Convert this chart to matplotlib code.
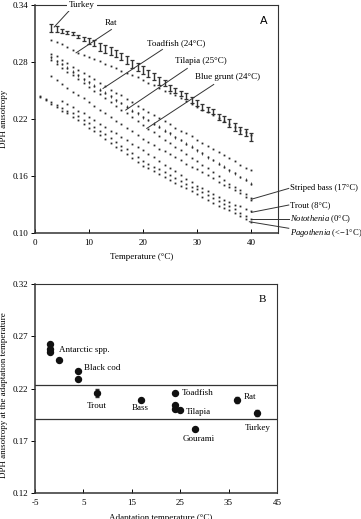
import numpy as np
import matplotlib.pyplot as plt

plt.rcParams['font.family'] = ['Liberation Serif', 'DejaVu Serif']
plt.rcParams['mathtext.fontset'] = 'custom'
plt.rcParams['mathtext.rm'] = 'Liberation Serif'
plt.rcParams['mathtext.it'] = 'Liberation Serif:italic'
plt.rcParams['font.size'] = 6.5
plt.rcParams['axes.unicode_minus'] = False

##################### Data, panel A ######################
temp_a = np.arange(3, 41)      # measurement temperatures, 1 degree steps
temp_low = np.arange(1, 41)
temp_trout = np.arange(5, 41)

turkey = [0.316, 0.315, 0.313, 0.311, 0.310, 0.307, 0.304, 0.302, 0.300, 0.296,
          0.294, 0.292, 0.289, 0.286, 0.282, 0.278, 0.275, 0.272, 0.268, 0.265,
          0.260, 0.258, 0.253, 0.250, 0.247, 0.244, 0.240, 0.237, 0.233, 0.230,
          0.228, 0.222, 0.220, 0.216, 0.212, 0.208, 0.206, 0.201]
turkey_err = [0.004, 0.003, 0.002, 0.0015, 0.0015, 0.002, 0.002, 0.003, 0.003, 0.004,
              0.004, 0.004, 0.004, 0.004, 0.004, 0.004, 0.004, 0.004, 0.004, 0.004,
              0.004, 0.003, 0.003, 0.003, 0.003, 0.003, 0.003, 0.003, 0.003, 0.003,
              0.003, 0.003, 0.003, 0.004, 0.004, 0.004, 0.004, 0.004]
rat = [0.303, 0.301, 0.299, 0.296, 0.293, 0.290, 0.288, 0.285, 0.283, 0.281,
       0.278, 0.276, 0.274, 0.271, 0.269, 0.266, 0.264, 0.261, 0.258, 0.256,
       0.253, 0.250, 0.248, 0.245, 0.242, 0.239, 0.236, 0.233, 0.230, 0.227,
       0.224, 0.221, 0.218, 0.215, 0.212, 0.209, 0.206, 0.203]
toadfish = [0.289, 0.286, 0.282, 0.279, 0.275, 0.272, 0.269, 0.265, 0.262, 0.258,
            0.255, 0.251, 0.248, 0.245, 0.241, 0.238, 0.234, 0.231, 0.228, 0.224,
            0.221, 0.218, 0.215, 0.211, 0.208, 0.205, 0.202, 0.198, 0.195, 0.192,
            0.189, 0.185, 0.182, 0.179, 0.176, 0.172, 0.169, 0.166]
tilapia = [0.285, 0.281, 0.278, 0.274, 0.270, 0.266, 0.262, 0.259, 0.255, 0.251,
           0.248, 0.244, 0.240, 0.237, 0.233, 0.229, 0.226, 0.222, 0.219, 0.215,
           0.212, 0.208, 0.205, 0.201, 0.198, 0.194, 0.191, 0.187, 0.184, 0.180,
           0.177, 0.173, 0.170, 0.166, 0.163, 0.159, 0.156, 0.152]
blue_grunt = [0.282, 0.278, 0.274, 0.270, 0.266, 0.262, 0.258, 0.254, 0.250, 0.246,
              0.242, 0.238, 0.234, 0.230, 0.226, 0.222, 0.218, 0.214, 0.210, 0.206,
              0.202, 0.198, 0.195, 0.191, 0.187, 0.183, 0.179, 0.176, 0.172, 0.168,
              0.164, 0.160, 0.156, 0.152, 0.149, 0.145, 0.141, 0.137]
striped_bass = [0.265, 0.261, 0.257, 0.253, 0.249, 0.245, 0.242, 0.238, 0.234, 0.230,
                0.226, 0.222, 0.218, 0.215, 0.211, 0.207, 0.203, 0.199, 0.196, 0.193,
                0.189, 0.186, 0.183, 0.180, 0.177, 0.173, 0.170, 0.167, 0.164, 0.161,
                0.158, 0.154, 0.151, 0.148, 0.145, 0.142, 0.138, 0.135]
trout = [0.239, 0.236, 0.233, 0.229, 0.226, 0.222, 0.219, 0.215, 0.212, 0.208,
         0.205, 0.201, 0.198, 0.194, 0.191, 0.187, 0.183, 0.180, 0.176, 0.172,
         0.168, 0.165, 0.161, 0.157, 0.154, 0.150, 0.147, 0.144, 0.141, 0.138,
         0.135, 0.133, 0.130, 0.128, 0.125, 0.123]
notothenia = [0.244, 0.241, 0.238, 0.235, 0.232, 0.229, 0.226, 0.223, 0.219, 0.216,
              0.212, 0.208, 0.204, 0.200, 0.196, 0.192, 0.188, 0.184, 0.180, 0.176,
              0.173, 0.170, 0.167, 0.164, 0.161, 0.158, 0.155, 0.152, 0.149, 0.146,
              0.143, 0.140, 0.137, 0.134, 0.131, 0.128, 0.125, 0.121, 0.118, 0.115]
pagothenia = [0.243, 0.240, 0.236, 0.233, 0.229, 0.226, 0.222, 0.219, 0.215, 0.211,
              0.207, 0.203, 0.199, 0.195, 0.191, 0.187, 0.183, 0.179, 0.175, 0.171,
              0.168, 0.165, 0.162, 0.159, 0.156, 0.153, 0.150, 0.147, 0.144, 0.141,
              0.138, 0.135, 0.132, 0.129, 0.126, 0.124, 0.121, 0.118, 0.115, 0.112]
tilapia_err = 0.0015

##################### Data, panel B ######################
b_names = ['Antarctic', 'Antarctic', 'Antarctic', 'Antarctic', 'Black cod', 'Black cod',
           'Trout', 'Bass', 'Toadfish', 'Tilapia', 'Tilapia', 'Tilapia',
           'Gourami', 'Rat', 'Turkey']
b_temp = [-1.9, -1.9, -1.9, 0.0, 3.8, 3.8, 7.8, 17.0, 23.9, 23.9, 23.9, 25.0, 28.0, 36.8, 40.8]
b_aniso = [0.263, 0.258, 0.255, 0.247, 0.237, 0.229, 0.216, 0.209, 0.216, 0.2045, 0.200,
           0.1997, 0.181, 0.2087, 0.1963]
b_err = [0, 0, 0, 0, 0, 0, 0.004, 0, 0, 0, 0, 0, 0, 0.003, 0.003]
b_lines = [0.2232, 0.1908]

ink = '#2b2b2b'

fig = plt.figure(figsize=(3.61, 5.19), dpi=100)

##################### Panel A ###########################
ax1 = fig.add_axes([0.097, 0.551, 0.673, 0.439])
ax1.errorbar(temp_a, turkey, yerr=turkey_err, fmt='none', ecolor='#333333',
             elinewidth=1.0, capsize=1.4, capthick=0.9)
for vals, tt in [(rat, temp_a), (toadfish, temp_a), (blue_grunt, temp_a),
                 (striped_bass, temp_a), (trout, temp_trout),
                 (notothenia, temp_low), (pagothenia, temp_low)]:
    ax1.plot(tt, vals, ls='none', marker='s', ms=1.3, mew=0, color=ink)
ax1.errorbar(temp_a, tilapia, yerr=tilapia_err, fmt='s', ms=1.3, mew=0, color=ink,
             ecolor='#444444', elinewidth=0.6, capsize=0.6, capthick=0.5)

ax1.set_xlim(0, 45)
ax1.set_ylim(0.10, 0.34)
ax1.set_xticks([0, 10, 20, 30, 40])
ax1.set_yticks([0.10, 0.16, 0.22, 0.28, 0.34])
ax1.set_yticklabels(['0.10', '0.16', '0.22', '0.28', '0.34'])
ax1.tick_params(axis='x', direction='in', length=3, width=0.7, pad=4)
ax1.tick_params(axis='y', direction='out', length=3, width=0.7, pad=2)
ax1.text(0.44, -0.105, 'Temperature (°C)', transform=ax1.transAxes, ha='center', va='center')
ax1.text(-0.128, 0.5, 'DPH anisotropy', transform=ax1.transAxes, rotation=90,
         ha='center', va='center')
ax1.text(0.94, 0.93, 'A', transform=ax1.transAxes, family='DejaVu Sans', fontsize=8,
         ha='center', va='center')

line_kw = dict(color='#333333', lw=0.7)
labels_a = [('Rat', 14.1, 0.3214, 14.15, 0.3144, 7.6, 0.2898),
            ('Toadfish (24°C)', 26.2, 0.3003, 23.6, 0.2934, 12.6, 0.2523),
            ('Tilapia (25°C)', 30.65, 0.2807, 28.2, 0.2734, 16.8, 0.2295),
            ('Blue grunt (24°C)', 35.6, 0.2645, 33.1, 0.2565, 20.7, 0.2102)]
for txt, tx, ty, x0, y0, x1, y1 in labels_a:
    ax1.plot([x0, x1], [y0, y1], **line_kw)
    ax1.text(tx, ty, txt, ha='center', va='center')
ax1.plot([6.7, 3.55], [0.3365, 0.317], clip_on=False, **line_kw)
ax1.text(8.7, 0.34, 'Turkey', ha='center', va='center', zorder=5,
         bbox=dict(facecolor='white', edgecolor='none', pad=1.5))

right_labels = [('Striped bass (17°C)', 0.147, 40.2, 0.1358),
                ('Trout (8°C)', 0.1295, 40.1, 0.1218),
                (r'$\it{Notothenia}$ (0°C)', 0.1147, 40.2, 0.1147),
                (r'$\it{Pagothenia}$ (<−1°C)', 0.0997, 39.7, 0.1119)]
for txt, ty, x1, y1 in right_labels:
    ly = ty if ty > 0.104 else 0.105
    ax1.plot([47.0, x1], [ly, y1], clip_on=False, **line_kw)
    ax1.text(47.2, ty, txt, ha='left', va='center', clip_on=False, fontsize=6.2)

for side in ['left', 'bottom']:
    ax1.spines[side].set_linewidth(1.1)
for side in ['top', 'right']:
    ax1.spines[side].set_linewidth(0.8)
for sp in ax1.spines.values():
    sp.set_color('#333333')

##################### Panel B ###########################
ax2 = fig.add_axes([0.097, 0.050, 0.670, 0.4028])
for yl in b_lines:
    ax2.axhline(yl, color='#333333', lw=0.9)
ax2.errorbar(b_temp, b_aniso, yerr=b_err, fmt='o', ms=4.3, color='#111111',
             ecolor='#333333', elinewidth=0.8, capsize=1.3, zorder=3)

labels_b = [('Antarctic spp.', 0.0, 0.2568, 'left'),
            ('Black cod', 5.1, 0.2393, 'left'),
            ('Trout', 7.8, 0.2036, 'center'),
            ('Bass', 16.8, 0.201, 'center'),
            ('Toadfish', 25.3, 0.2154, 'left'),
            ('Tilapia', 26.2, 0.1978, 'left'),
            ('Gourami', 28.8, 0.1714, 'center'),
            ('Rat', 38.2, 0.2122, 'left'),
            ('Turkey', 41.0, 0.1825, 'center')]
for txt, tx, ty, ha in labels_b:
    ax2.text(tx, ty, txt, ha=ha, va='center')

ax2.set_xlim(-5, 45)
ax2.set_ylim(0.12, 0.32)
ax2.set_xticks([-5, 5, 15, 25, 35, 45])
ax2.set_yticks([0.12, 0.17, 0.22, 0.27, 0.32])
ax2.set_yticklabels(['0.12', '0.17', '0.22', '0.27', '0.32'])
ax2.tick_params(axis='x', direction='in', length=3, width=0.7, pad=4)
ax2.tick_params(axis='y', direction='out', length=3, width=0.7, pad=2)
ax2.text(0.52, -0.100, 'Adaptation temperature (°C)', transform=ax2.transAxes,
         ha='center', va='top')
ax2.text(-0.128, 0.47, 'DPH anisotropy at the adaptation temperature',
         transform=ax2.transAxes, rotation=90, ha='center', va='center')
ax2.text(0.94, 0.925, 'B', transform=ax2.transAxes, fontsize=8, ha='center', va='center')
for side in ['left', 'bottom']:
    ax2.spines[side].set_linewidth(1.1)
for side in ['top', 'right']:
    ax2.spines[side].set_linewidth(0.8)
for sp in ax2.spines.values():
    sp.set_color('#333333')

fig.savefig('out.png', dpi=100)
